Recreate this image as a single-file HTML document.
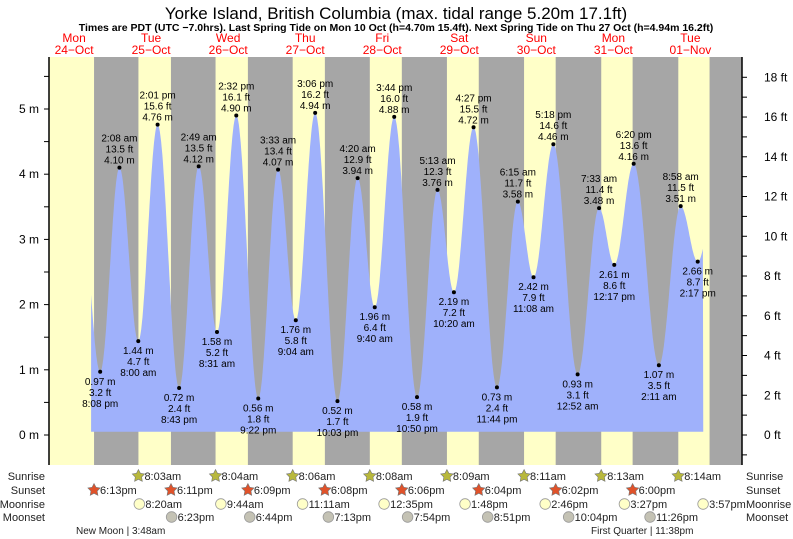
<!DOCTYPE html>
<html><head><meta charset="utf-8"><style>
body{margin:0;background:#fff;}
svg{display:block;font-family:"Liberation Sans",sans-serif;}
</style></head><body>
<svg id="chart" width="793" height="539" viewBox="0 0 793 539" xmlns="http://www.w3.org/2000/svg">
<text x="396" y="19" font-size="17" text-anchor="middle" fill="#000">Yorke Island, British Columbia (max. tidal range 5.20m 17.1ft)</text>
<text x="396" y="31" font-size="10.5" font-weight="bold" text-anchor="middle" fill="#000">Times are PDT (UTC −7.0hrs). Last Spring Tide on Mon 10 Oct (h=4.70m 15.4ft). Next Spring Tide on Thu 27 Oct (h=4.94m 16.2ft)</text>
<g id="bg"></g><g id="tide"></g><g id="axes"></g><g id="labels"></g><g id="astro"></g>
</svg>
<script>
// ---- data ----
const tideTimes = [-3.87,2.13,8,14.02,20.72,26.82,32.52,38.53,45.37,51.55,57.07,63.1,70.05,76.33,81.67,87.73,94.83,101.22,106.33,112.45,119.73,126.25,131.13,137.3,144.87,151.55,156.28,162.33,170.18,176.97,182.28];
const tideHeights = [0.97,4.10,1.44,4.76,0.72,4.12,1.58,4.90,0.56,4.07,1.76,4.94,0.52,3.94,1.96,4.88,0.58,3.76,2.19,4.72,0.73,3.58,2.42,4.46,0.93,3.48,2.61,4.16,1.07,3.51,2.66];
const tideFeet = ["3.2","13.5","4.7","15.6","2.4","13.5","5.2","16.1","1.8","13.4","5.8","16.2","1.7","12.9","6.4","16.0","1.9","12.3","7.2","15.5","2.4","11.7","7.9","14.6","3.1","11.4","8.6","13.6","3.5","11.5","8.7"];
const tideLabels = ["8:08 pm","2:08 am","8:00 am","2:01 pm","8:43 pm","2:49 am","8:31 am","2:32 pm","9:22 pm","3:33 am","9:04 am","3:06 pm","10:03 pm","4:20 am","9:40 am","3:44 pm","10:50 pm","5:13 am","10:20 am","4:27 pm","11:44 pm","6:15 am","11:08 am","5:18 pm","12:52 am","7:33 am","12:17 pm","6:20 pm","2:11 am","8:58 am","2:17 pm"];
const dayNames = ["Mon","Tue","Wed","Thu","Fri","Sat","Sun","Mon","Tue"];
const dayDates = ["24\u2212Oct","25\u2212Oct","26\u2212Oct","27\u2212Oct","28\u2212Oct","29\u2212Oct","30\u2212Oct","31\u2212Oct","01\u2212Nov"];
const sunrise = [8.05,8.07,8.1,8.13,8.15,8.18,8.22,8.23];
const sunriseLbl = ["8:03am","8:04am","8:06am","8:08am","8:09am","8:11am","8:13am","8:14am"];
const sunset = [18.22,18.18,18.15,18.13,18.1,18.07,18.03,18,17.97];
const sunsetLbl = ["6:13pm","6:11pm","6:09pm","6:08pm","6:06pm","6:04pm","6:02pm","6:00pm",""];
const moonrise = [8.33,9.73,11.18,12.58,13.8,14.77,15.45,15.95];
const moonriseLbl = ["8:20am","9:44am","11:11am","12:35pm","1:48pm","2:46pm","3:27pm","3:57pm"];
const moonset = [18.38,18.73,19.22,19.9,20.85,22.07,23.43];
const moonsetLbl = ["6:23pm","6:44pm","7:13pm","7:54pm","8:51pm","10:04pm","11:26pm"];

// ---- scales ----
const X0=49, X1=742, Y0=57, Y1=465;
const x = h => 112.6 + h*3.21;
const y = m => 435 - m*65.2;
const yft = f => 435 - f*0.3048*65.2;
const NS="http://www.w3.org/2000/svg";
function mk(parent,tag,attrs,txt){const e=document.createElementNS(NS,tag);for(const k in attrs)e.setAttribute(k,attrs[k]);if(txt!==undefined)e.textContent=txt;document.getElementById(parent).appendChild(e);return e;}

let r=mk('bg','rect',{x:X0,y:Y0,width:X1-X0,height:Y1-Y0,fill:'#ffffc8'});


for(let i=0;i<sunset.length;i++){
  const s=x((i-1)*24+sunset[i]);
  const e=i<sunrise.length?x(i*24+sunrise[i]):X1;
  const n=mk('bg','rect',{x:s,y:Y0,width:Math.min(e,X1)-s,height:Y1-Y0,fill:'#a6a6a6'});
  
  
}
let d='M'+x(-6.7)+','+y(0.05);
for(let h=-6.7;h<=184;h+=0.2){
  let v;
  let i=0;while(i<tideTimes.length-1&&tideTimes[i+1]<h)i++;
  if(h<tideTimes[0]){const t0=tideTimes[0]-6.2,h0=3.7;const p=(h-t0)/(tideTimes[0]-t0);v=h0+(tideHeights[0]-h0)*(1-Math.cos(Math.PI*p))/2;}
  else if(h>tideTimes[tideTimes.length-1]){const n=tideTimes.length-1;const t1=tideTimes[n]+6.2,h1=3.9;const p=(h-tideTimes[n])/(t1-tideTimes[n]);v=tideHeights[n]+(h1-tideHeights[n])*(1-Math.cos(Math.PI*p))/2;}
  else{const p=(h-tideTimes[i])/(tideTimes[i+1]-tideTimes[i]);v=tideHeights[i]+(tideHeights[i+1]-tideHeights[i])*(1-Math.cos(Math.PI*p))/2;}
  d+=' L'+x(h).toFixed(1)+','+y(v).toFixed(1);
}
d+=' L'+x(184)+','+y(0.05)+' Z';
const area=mk('tide','path',{d:d,fill:'#9fb1fb'});



mk('axes','line',{x1:X0,y1:Y0,x2:X0,y2:Y1,stroke:'#000','stroke-width':1.5});
mk('axes','line',{x1:X1,y1:Y0,x2:X1,y2:Y1,stroke:'#000','stroke-width':1.5});
for(let m=0;m<=5.5;m+=0.5){
  mk('axes','line',{x1:X0-5,y1:y(m),x2:X0,y2:y(m),stroke:'#000'});
  if(m%1===0){const t=mk('axes','text',{x:X0-10,y:y(m)+4,'font-size':12,'text-anchor':'end'},m+' m');
    }
}
for(let f=-1;f<=18;f++){
  mk('axes','line',{x1:X1,y1:yft(f),x2:X1+5,y2:yft(f),stroke:'#000'});
  if(f>=0&&f%2===0){const t=mk('axes','text',{x:X1+22,y:yft(f)+4,'font-size':12},f+' ft');
    }
}
for(let i=0;i<dayNames.length;i++){
  const cx=x((i-1)*24+12);
  const a=mk('axes','text',{x:cx,y:42,'font-size':12,'text-anchor':'middle',fill:'#ff0000'},dayNames[i]);
  
  const b=mk('axes','text',{x:cx,y:54,'font-size':12,'text-anchor':'middle',fill:'#ff0000'},dayDates[i]);
  
}
for(let i=0;i<tideTimes.length;i++){
  const cx=x(tideTimes[i]),cy=y(tideHeights[i]);
  const dot=mk('labels','circle',{cx:cx,cy:cy,r:2,fill:'#000'});
  
  const hi=i%2===1;
  const lines=hi?[tideLabels[i],tideFeet[i]+' ft',tideHeights[i].toFixed(2)+' m']:[tideHeights[i].toFixed(2)+' m',tideFeet[i]+' ft',tideLabels[i]];
  const base=hi?cy-26:cy+13;
  lines.forEach((s,k)=>{const t=mk('labels','text',{x:cx,y:base+k*11,'font-size':10,'text-anchor':'middle'},s);
    });
}
const rows=[["Sunrise",480],["Sunset",494],["Moonrise",508],["Moonset",521]];
rows.forEach(([n,yy])=>{
  const a=mk('astro','text',{x:45,y:yy,'font-size':11,'text-anchor':'end',fill:'#222'},n);
  
  const b=mk('astro','text',{x:746,y:yy,'font-size':11,fill:'#222'},n);
  
});
function star(cx,cy,fill){let p='';for(let k=0;k<10;k++){const a=-Math.PI/2+k*Math.PI/5,rr=k%2?3.3:6.5;p+=(cx+rr*Math.cos(a)).toFixed(1)+','+(cy+rr*Math.sin(a)).toFixed(1)+' ';}
  const s=mk('astro','polygon',{points:p,fill:fill,stroke:'#777','stroke-width':0.6});return s;}
function ev(times,lbls,yy,off,kind){
  times.forEach((t,i)=>{if(!lbls[i])return;const cx=x((i+off)*24+t);let ic;
    if(kind==='rise'){ic=star(cx,yy-4,'#b8b83c');}
    else if(kind==='set'){ic=star(cx,yy-4,'#e0522a');}
    else ic=mk('astro','circle',{cx:cx,cy:yy-4,r:5.3,fill:kind==='mrise'?'#ffffc8':'#c4c2b4',stroke:'#999','stroke-width':0.8});
    
    const tx=mk('astro','text',{x:cx+6,y:yy,'font-size':11,fill:'#222'},lbls[i]);
    });
}
ev(sunrise,sunriseLbl,480,0,'rise');
ev(sunset,sunsetLbl,494,-1,'set');
ev(moonrise,moonriseLbl,508,0,'mrise');
ev(moonset,moonsetLbl,521,0,'mset');
const nm=mk('astro','text',{x:76,y:534,'font-size':10,fill:'#222'},'New Moon | 3:48am');

const fq=mk('astro','text',{x:591,y:534,'font-size':10,fill:'#222'},'First Quarter | 11:38pm');

</script>
</body></html>
